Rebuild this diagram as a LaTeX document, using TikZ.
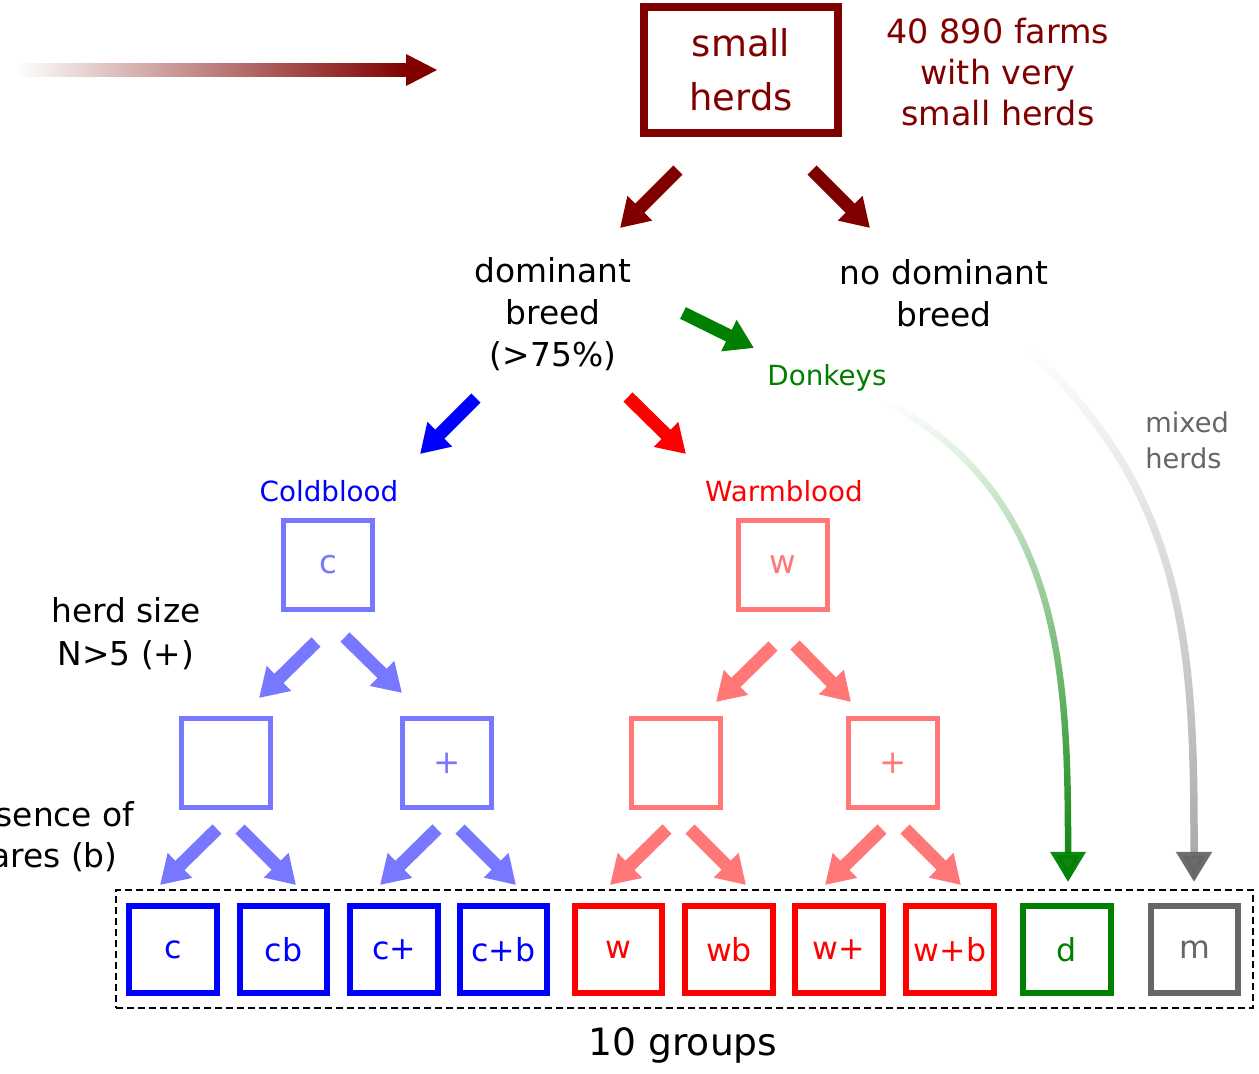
\documentclass[tikz,border=0pt]{standalone}
\usepackage{fontspec}
\setmainfont{DejaVu Sans}
\usetikzlibrary{arrows.meta,fadings}
\definecolor{dred}{HTML}{800000}
\definecolor{lblue}{HTML}{7777FF}
\definecolor{lred}{HTML}{FF7777}
\definecolor{dgreen}{HTML}{008000}
\definecolor{mgray}{HTML}{666666}
\definecolor{lgray}{HTML}{A6A6A6}
\tikzfading[name=curvefade, top color=transparent!100, middle color=transparent!15, bottom color=transparent!0]
\tikzfading[name=grayfade, top color=transparent!100, middle color=transparent!5, bottom color=transparent!0]
\begin{document}
\begin{tikzpicture}[x=0.02cm,y=-0.02cm,
  fat/.style={line width=0.26cm, -{Triangle[length=0.56cm,width=0.66cm]}},
  txt/.style={font=\fontsize{18.7}{23.8}\selectfont, align=center, inner sep=0pt},
  lab/.style={font=\fontsize{15.8}{20}\selectfont, inner sep=0pt},
  midbox/.style={draw, line width=0.1cm, minimum width=1.78cm, minimum height=1.78cm, inner sep=0pt, font=\fontsize{18.5}{20}\selectfont},
  botbox/.style={draw, line width=0.12cm, minimum width=1.76cm, minimum height=1.74cm, inner sep=0pt, font=\fontsize{18}{20}\selectfont},
  curve/.style={line width=0.13cm, path fading=curvefade}
]
\useasboundingbox (0,0) rectangle (1259,1073);
\fill[white] (0,0) rectangle (1259,1073);

% top
\node[draw=dred, line width=0.16cm, minimum width=3.88cm, minimum height=2.52cm, text=dred,
      font=\fontsize{21}{30.6}\selectfont, align=center, inner sep=0pt] (top) at (741,70) {small\\herds};
\node[font=\fontsize{19}{23.5}\selectfont, align=center, text=dred, inner sep=0pt] (farms) at (998,72) {40 890 farms\\with very\\small herds};

% incoming gradient arrow
\coordinate (ins) at (15,70);
\coordinate (inh) at (406,70);
\coordinate (ine) at (437,70);
\shade[left color=white, right color=dred] (15,63.5) rectangle (407,76.5);
\fill[dred] (406,54) -- (437,70) -- (406,86) -- cycle;

% level 1 text
\node[txt] (dom) at (553,314) {dominant\\breed\\(>75\%)};
\node[txt] (nodom) at (944,293) {no dominant\\breed};
\node[lab, text=dgreen] (donk) at (827,378) {Donkeys};
\node[lab, text=blue] (cold) at (329,491) {Coldblood};
\node[lab, text=red] (warm) at (784,491) {Warmblood};
\node[lab, text=mgray, align=left, anchor=west, font=\fontsize{15.5}{20.4}\selectfont] (mixed) at (1145,440) {mixed\\herds};

% arrows from top
\coordinate (a1s) at (678,170); \coordinate (a1e) at (620,228);
\coordinate (a2s) at (812,170); \coordinate (a2e) at (870,228);
\draw[fat, dred] (a1s) -- (a1e);
\draw[fat, dred] (a2s) -- (a2e);
% arrows from dominant
\coordinate (gs) at (683,313); \coordinate (ge) at (754,348);
\draw[fat, dgreen] (gs) -- (ge);
\coordinate (bs) at (476,398); \coordinate (be) at (420,454);
\draw[fat, blue] (bs) -- (be);
\coordinate (rs) at (628,397); \coordinate (re) at (686,454);
\draw[fat, red] (rs) -- (re);

% mid boxes
\node[midbox, draw=lblue, text=lblue] (c) at (328,565) {c};
\node[midbox, draw=lred, text=lred] (w) at (783,565) {w};
\node[midbox, draw=lblue, text=lblue] (c0) at (226,763) {};
\node[midbox, draw=lblue, text=lblue] (cp) at (447,763) {+};
\node[midbox, draw=lred, text=lred] (w0) at (676,763) {};
\node[midbox, draw=lred, text=lred] (wp) at (893,763) {+};

\coordinate (c1s) at (316,642); \coordinate (c1e) at (259,698);
\coordinate (c2s) at (345,637); \coordinate (c2e) at (402,693);
\draw[fat, lblue] (c1s) -- (c1e);
\draw[fat, lblue] (c2s) -- (c2e);
\coordinate (w1s) at (773,646); \coordinate (w1e) at (716,702);
\coordinate (w2s) at (795,645); \coordinate (w2e) at (851,702);
\draw[fat, lred] (w1s) -- (w1e);
\draw[fat, lred] (w2s) -- (w2e);

\foreach \n/\x/\col in {p1/217/lblue, p3/437/lblue, p5/667/lred, p7/882/lred}{
  \coordinate (\n s) at (\x,829);
  \coordinate (\n e) at (\x-57,885);
  \draw[fat, \col] (\n s) -- (\n e);
}
\foreach \n/\x/\col in {p2/240/lblue, p4/460/lblue, p6/690/lred, p8/905/lred}{
  \coordinate (\n s) at (\x,829);
  \coordinate (\n e) at (\x+56,885);
  \draw[fat, \col] (\n s) -- (\n e);
}

% side texts
\node[txt, font=\fontsize{18.7}{24.4}\selectfont] (hsize) at (126,634) {herd size\\N>5 (+)};
\node[txt, font=\fontsize{18.7}{23.3}\selectfont] (mares) at (38,837) {presence of\\mares (b)};

% group frame
\node[draw, dashed, line width=0.05cm, dash pattern=on 0.14cm off 0.08cm, minimum width=22.74cm, minimum height=2.36cm, inner sep=0pt] (grp) at (684.5,949) {};
\node[botbox, draw=blue, text=blue] (bc) at (173,949.5) {c};
\node[botbox, draw=blue, text=blue] (bcb) at (283.5,949.5) {cb};
\node[botbox, draw=blue, text=blue] (bcp) at (394,949.5) {c+};
\node[botbox, draw=blue, text=blue] (bcpb) at (503.5,949.5) {c+b};
\node[botbox, draw=red, text=red] (bw) at (618.5,949.5) {w};
\node[botbox, draw=red, text=red] (bwb) at (729,949.5) {wb};
\node[botbox, draw=red, text=red] (bwp) at (839,949.5) {w+};
\node[botbox, draw=red, text=red] (bwpb) at (950,949.5) {w+b};
\node[botbox, draw=dgreen, text=dgreen] (bd) at (1067,949.5) {d};
\node[botbox, draw=mgray, text=mgray] (bm) at (1194.5,949.5) {m};
\node[font=\fontsize{21.4}{26}\selectfont, inner sep=0pt] (groups) at (683,1045) {10 groups};

% curved fading arrows
\coordinate (dks) at (888,403); \coordinate (dke) at (1068,882);
\draw[curve, dgreen, -{Triangle[length=0.6cm,width=0.68cm]}] (dks) to[out=-28,in=90] (dke);
\coordinate (mxs) at (1030,352); \coordinate (mxe) at (1194,882);
\draw[line width=0.15cm, path fading=grayfade, lgray, -{Triangle[length=0.6cm,width=0.68cm,color=mgray]}] (mxs) to[out=-42,in=90] (mxe);
\end{tikzpicture}
\end{document}
